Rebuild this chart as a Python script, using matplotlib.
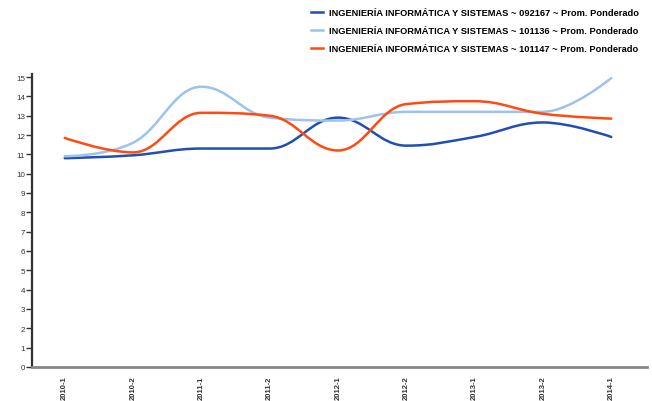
import numpy as np
import matplotlib.pyplot as plt
from matplotlib.path import Path
from matplotlib.patches import PathPatch
from matplotlib.lines import Line2D

plt.rcParams["font.family"] = ["Liberation Sans", "DejaVu Sans"]

# periods and weighted averages per curriculum code
periods = ["2010-1", "2010-2", "2011-1", "2011-2", "2012-1",
           "2012-2", "2013-1", "2013-2", "2014-1"]
prom_092167 = [10.8, 10.95, 11.3, 11.3, 12.9, 11.45, 11.9, 12.65, 11.9]
prom_101136 = [10.9, 11.6, 14.5, 12.9, 12.75, 13.2, 13.2, 13.2, 14.95]
prom_101147 = [11.85, 11.1, 13.15, 13.0, 11.2, 13.6, 13.75, 13.1, 12.85]

names = [
    "INGENIERÍA INFORMÁTICA Y SISTEMAS ~ 092167 ~ Prom. Ponderado",
    "INGENIERÍA INFORMÁTICA Y SISTEMAS ~ 101136 ~ Prom. Ponderado",
    "INGENIERÍA INFORMÁTICA Y SISTEMAS ~ 101147 ~ Prom. Ponderado",
]
colors = ["#1f4fb5", "#9cc2ee", "#ff4a12"]


def spline_path(xs, ys, smoothing=1.5):
    # cubic bezier through every point, control points kept inside neighbour range
    n = len(xs)
    denom = smoothing + 1
    left = [(xs[i], ys[i]) for i in range(n)]
    right = [(xs[i], ys[i]) for i in range(n)]
    for i in range(1, n - 1):
        x, y = xs[i], ys[i]
        lx, ly = xs[i - 1], ys[i - 1]
        nx, ny = xs[i + 1], ys[i + 1]
        lcx = (smoothing * x + lx) / denom
        lcy = (smoothing * y + ly) / denom
        rcx = (smoothing * x + nx) / denom
        rcy = (smoothing * y + ny) / denom
        corr = (rcy - lcy) * (rcx - x) / (rcx - lcx) + y - rcy
        lcy += corr
        rcy += corr
        if lcy > ly and lcy > y:
            lcy = max(ly, y); rcy = 2 * y - lcy
        elif lcy < ly and lcy < y:
            lcy = min(ly, y); rcy = 2 * y - lcy
        if rcy > ny and rcy > y:
            rcy = max(ny, y); lcy = 2 * y - rcy
        elif rcy < ny and rcy < y:
            rcy = min(ny, y); lcy = 2 * y - rcy
        left[i] = (lcx, lcy)
        right[i] = (rcx, rcy)
    verts = [(xs[0], ys[0])]
    codes = [Path.MOVETO]
    for i in range(1, n):
        verts += [right[i - 1], left[i], (xs[i], ys[i])]
        codes += [Path.CURVE4] * 3
    return Path(verts, codes)


fig = plt.figure(figsize=(6.52, 4.02), dpi=100)
ax = fig.add_axes([0.049, 0.085, 0.943, 0.728])

x = np.arange(len(periods))
for vals, c in zip([prom_092167, prom_101136, prom_101147], colors):
    p = spline_path(list(x), vals)
    ax.add_patch(PathPatch(p, facecolor="none", edgecolor=c, lw=1.8,
                           capstyle="round", joinstyle="round"))

ax.set_xlim(-0.48, 8.52)
ax.set_ylim(0, 15.15)
ax.set_yticks(range(0, 16))
ax.set_xticks(x)
ax.set_xticklabels(periods, rotation=90, fontsize=5.5, fontweight="bold",
                   color="#333333", va="top")
ax.tick_params(axis="y", labelsize=5.8, colors="#333333", length=4,
               width=1, direction="out", pad=1)
ax.tick_params(axis="x", length=0, pad=6)
for s in ["top", "right"]:
    ax.spines[s].set_visible(False)
ax.spines["left"].set_color("#333333")
ax.spines["left"].set_linewidth(1.6)
ax.spines["bottom"].set_color("#888888")
ax.spines["bottom"].set_linewidth(2.0)

handles = [Line2D([], [], color=c, lw=1.8) for c in colors]
fig.legend(handles, names, loc="upper right", bbox_to_anchor=(0.993, 0.999),
           frameon=False, prop={"size": 6.7, "weight": "bold"},
           handlelength=1.3, handletextpad=0.6, labelspacing=0.97)

fig.savefig("out.png", dpi=100)
